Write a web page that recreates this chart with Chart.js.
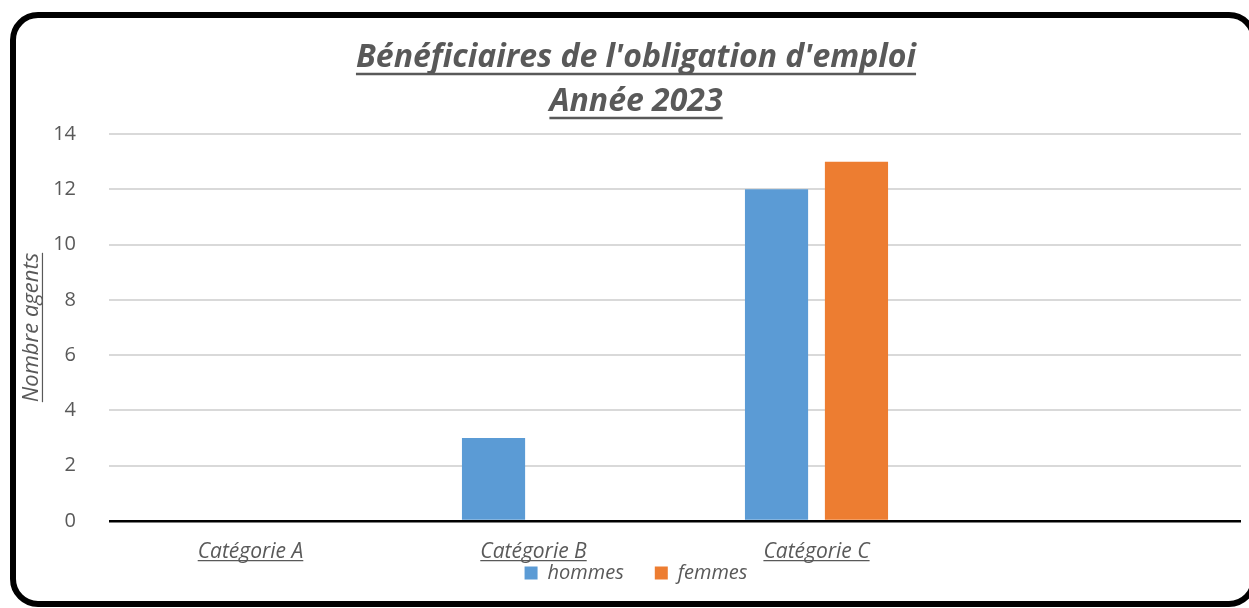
<!DOCTYPE html>
<html>
<head>
<meta charset="utf-8">
<script src="https://cdn.jsdelivr.net/npm/chart.js@4"></script>
<style>
  html, body { margin: 0; padding: 0; background: #fff; overflow: hidden; }
  #frame {
    position: absolute; left: 10px; top: 12px;
    width: 1247px; height: 595px; box-sizing: border-box;
    border: 6px solid #000; border-radius: 28px;
  }
  #chart { position: absolute; left: 0; top: 0; }
</style>
</head>
<body>
<div id="frame"></div>
<canvas id="chart" width="1249" height="608"></canvas>
<script>
// chart values
const categories = ["Catégorie A", "Catégorie B", "Catégorie C", ""];
const hommes = [0, 3, 12, null];
const femmes = [0, 0, 13, null];
const titleLines = ["Bénéficiaires de l'obligation d'emploi", "Année 2023"];
const yAxisTitle = "Nombre agents";
const yMin = 0, yMax = 14, yStep = 2;

const textGray = "#595959";
const fontFamily = "'Open Sans', 'Noto Sans', sans-serif";

// distance from the 'middle' text baseline down to the alphabetic baseline
function middleToBase(ctx, font) {
    ctx.font = font.string;
    ctx.textBaseline = "middle";
    return ctx.measureText("x").actualBoundingBoxDescent;
}

// draws the underlines that Chart.js does not support
const underlinePlugin = {
    id: "underline",
    afterDraw(chart) {
        const ctx = chart.ctx;
        ctx.save();
        ctx.strokeStyle = textGray;

        // title
        const tb = chart.titleBlock;
        const tFont = Chart.helpers.toFont(tb.options.font);
        const tBase = middleToBase(ctx, tFont);
        const cx = (tb.left + tb.right) / 2;
        let y = tb.top + tb.options.padding.top + tFont.lineHeight / 2;
        ctx.lineWidth = 2.5;
        titleLines.forEach(line => {
            const w = ctx.measureText(line).width;
            const uy = y + tBase + 7;
            ctx.beginPath();
            ctx.moveTo(cx - w / 2, uy);
            ctx.lineTo(cx + w / 2, uy);
            ctx.stroke();
            y += tFont.lineHeight;
        });

        // x tick labels
        const xs = chart.scales.x;
        const xFont = Chart.helpers.toFont(xs.options.ticks.font);
        const xBase = middleToBase(ctx, xFont);
        const ly = xs.top + xs.options.ticks.padding + xFont.lineHeight / 2 + xBase + 3;
        ctx.lineWidth = 1.2;
        categories.forEach((c, i) => {
            if (!c) return;
            const px = xs.getPixelForTick(i);
            const w = ctx.measureText(c).width;
            ctx.beginPath();
            ctx.moveTo(px - w / 2, ly);
            ctx.lineTo(px + w / 2, ly);
            ctx.stroke();
        });

        // y axis title (rotated, so the underline is vertical)
        const ys = chart.scales.y;
        const yt = ys.options.title;
        const yFont = Chart.helpers.toFont(yt.font);
        const yBase = middleToBase(ctx, yFont);
        const tx = ys.left + yFont.lineHeight / 2 + yt.padding.top;
        const ty = (ys.top + ys.bottom) / 2;
        const w = ctx.measureText(yAxisTitle).width;
        ctx.beginPath();
        ctx.moveTo(tx + yBase + 4, ty - w / 2);
        ctx.lineTo(tx + yBase + 4, ty + w / 2);
        ctx.stroke();

        ctx.restore();
    }
};

// the legend sits tight under the category labels
const legendUp = {
    id: "legendUp",
    afterLayout(chart) {
        const lg = chart.legend;
        lg.top = chart.scales.x.top + 11;
        lg.bottom = chart.height;
        lg.height = lg.bottom - lg.top;
    }
};

new Chart(document.getElementById("chart"), {
    type: "bar",
    data: {
        labels: categories,
        datasets: [
            {
                label: "hommes",
                data: hommes,
                backgroundColor: "#5B9BD5",
                borderWidth: 0
            },
            {
                label: "femmes",
                data: femmes,
                backgroundColor: "#ED7D31",
                borderWidth: 0
            }
        ]
    },
    options: {
        responsive: false,
        animation: false,
        categoryPercentage: 0.565,
        barPercentage: 0.79,
        layout: {
            padding: { left: 31, right: 8, top: 0, bottom: 0 }
        },
        plugins: {
            title: {
                display: true,
                text: titleLines,
                color: textGray,
                font: { family: fontFamily, size: 32, weight: "bold", style: "italic", lineHeight: "44px" },
                padding: { top: 36, bottom: 10 }
            },
            legend: {
                position: "bottom",
                maxHeight: 41,
                labels: {
                    color: textGray,
                    font: { family: fontFamily, size: 20, style: "italic" },
                    boxWidth: 13,
                    boxHeight: 13,
                    padding: 31
                }
            },
            tooltip: { enabled: false }
        },
        scales: {
            x: {
                grid: { display: false, drawTicks: false },
                border: { display: false },
                ticks: {
                    color: textGray,
                    font: { family: fontFamily, size: 21, style: "italic" },
                    padding: 18,
                    maxRotation: 0
                },
                afterFit(scale) { scale.height = 46; }
            },
            y: {
                min: yMin,
                max: yMax,
                border: { display: false },
                grid: {
                    drawTicks: false,
                    color: c => c.tick.value === 0 ? "#000" : "#d9d9d9",
                    lineWidth: c => c.tick.value === 0 ? 2.5 : 2
                },
                ticks: {
                    stepSize: yStep,
                    color: textGray,
                    font: { family: fontFamily, size: 20 },
                    padding: 33
                },
                title: {
                    display: true,
                    text: yAxisTitle,
                    color: textGray,
                    font: { family: fontFamily, size: 22, style: "italic" },
                    padding: { top: -12, bottom: 0 }
                },
                afterFit(scale) { scale.width = 78; }
            }
        }
    },
    plugins: [underlinePlugin, legendUp]
});
</script>
</body>
</html>
